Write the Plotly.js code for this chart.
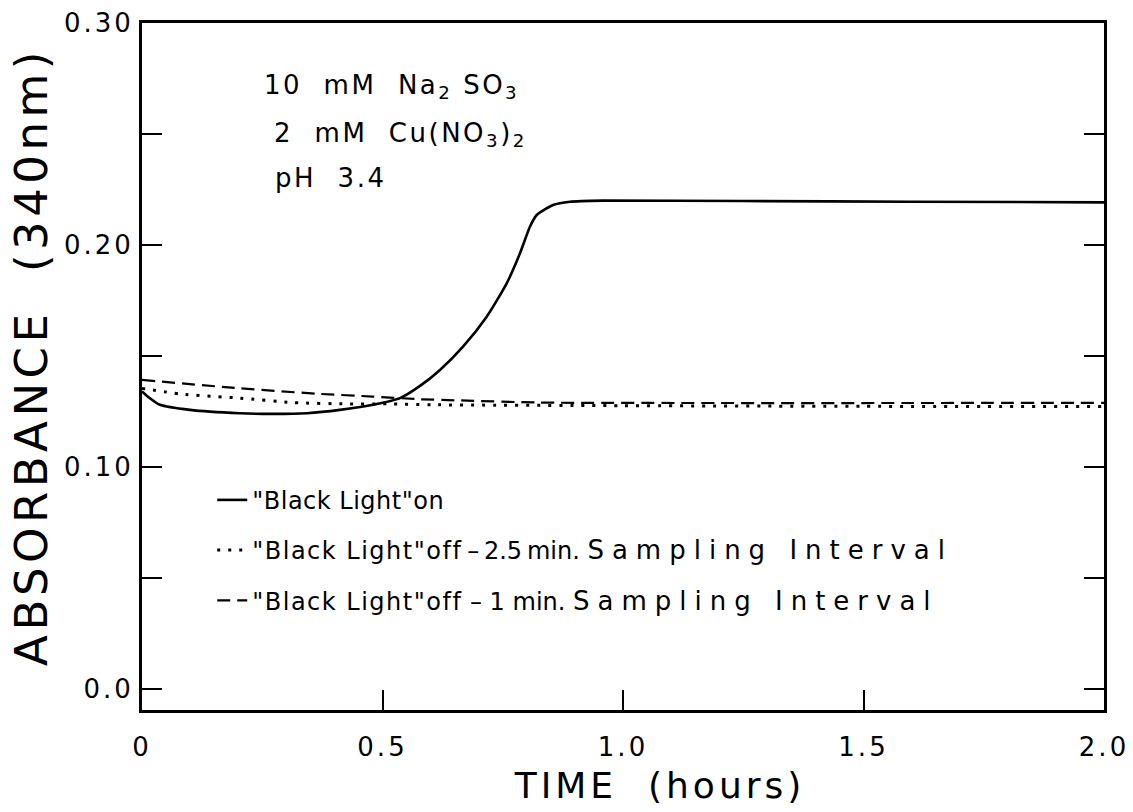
<!DOCTYPE html>
<html>
<head>
<meta charset="utf-8">
<script src="https://cdn.plot.ly/plotly-3.0.1.min.js"></script>
<style>
  html, body { margin: 0; padding: 0; background: #fff; }
  #chart { width: 1133px; height: 812px; }
  /* wide, spaced look of the drafting lettering */
  .xtick text, .ytick text { letter-spacing: 3px; }
  .xtitle { letter-spacing: 4px; }
  .ytitle { letter-spacing: 4.5px; }
  .annotation-text { letter-spacing: 2.5px; }
  /* hand-placed axis titles */
  #chart .g-xtitle { transform: translate(37px, 0); }
  #chart .g-ytitle { transform: translate(0, -10px); }
  #chart .legend .scrollbox { clip-path: none !important; }
</style>
</head>
<body>
<div id="chart"></div>
<script>
// Absorbance at 340 nm vs. time, sulfite / copper(II) solution
const timeOn = [0, 0.0104, 0.0374, 0.0998, 0.2037, 0.2723, 0.343, 0.4116, 0.4802, 0.5364, 0.578,
                0.6195, 0.6674, 0.7166, 0.7582, 0.7859, 0.8067, 0.8206, 0.8545, 0.8898, 0.9584,
                1.25, 1.6, 2.0];
const absOn = [0.134, 0.132, 0.128, 0.1257, 0.1242, 0.1239, 0.1242, 0.1257, 0.128, 0.131, 0.1365,
               0.1437, 0.1542, 0.1677, 0.1827, 0.1963, 0.2083, 0.2135, 0.218, 0.2195, 0.2200,
               0.2198, 0.2195, 0.2192];

const timeOff25 = [0, 0.079, 0.2037, 0.3139, 0.4262, 0.5218, 0.605, 1.0, 1.5, 2.0];
const absOff25 = [0.1354, 0.1329, 0.131, 0.129, 0.1284, 0.1284, 0.128, 0.1276, 0.1273, 0.1272];

const timeOff1 = [0, 0.2037, 0.3701, 0.4802, 0.578, 0.6549, 0.8274, 1.2, 1.6, 2.0];
const absOff1 = [0.1392, 0.1354, 0.1329, 0.1317, 0.1305, 0.1300, 0.1290, 0.1288, 0.1288, 0.1289];

// legend lettering: label part, condition part, and a spread-out "Sampling Interval"
const spaced = (s, px) => '<span style="letter-spacing:' + px + 'px">' + s + '</span>';
const wide = s => '<span style="letter-spacing:8px;font-size:26px">' + s + '</span>';
const seriesNames = [spaced('"Black Light"on', 0.5),
                     spaced('"Black Light"off', 1.5) + '\u2009\u2013\u20092.5\u2009min. ' + wide('Sampling Interval'),
                     spaced('"Black Light"off', 1.5) + ' \u2013 1 min. ' + wide('Sampling Interval')];

const xTickVals = [0, 0.5, 1.0, 1.5, 2.0];
const xTickText = ['0', '0.5', '1.0', '1.5', '2.0'];
const yTickVals = [0, 0.10, 0.20, 0.30];
const yTickText = ['0.0', '0.10', '0.20', '0.30'];
const yMinorTickVals = [0.05, 0.15, 0.25];
const yLongTickVals = [0.10, 0.20];
const topTickVals = [0.469, 0.889, 1.326];

const conditionLines = ['10  mM  Na<sub>2</sub> SO<sub>3</sub>',
                        '2  mM  Cu(NO<sub>3</sub>)<sub>2</sub>',
                        'pH  3.4'];

const FONT = 'DejaVu Sans, Liberation Sans, sans-serif';

const traces = [
  { x: timeOn, y: absOn, name: seriesNames[0], mode: 'lines', legendgroup: 'a',
    line: { color: '#000', width: 2.6, shape: 'spline', smoothing: 0.6 } },
  { x: timeOff25, y: absOff25, name: seriesNames[1], mode: 'lines', legendgroup: 'b',
    line: { color: '#000', width: 3, dash: '3px,8px', shape: 'spline', smoothing: 0.6 } },
  { x: timeOff1, y: absOff1, name: seriesNames[2], mode: 'lines', legendgroup: 'c',
    line: { color: '#000', width: 2.2, dash: '13px,7px', shape: 'spline', smoothing: 0.6 } }
];

const axisCommon = {
  showgrid: false, zeroline: false, showline: true, linecolor: '#000', linewidth: 3,
  ticks: 'inside', tickcolor: '#000', tickwidth: 2
};

const layout = {
  width: 1133, height: 812,
  margin: { l: 142, r: 29, t: 23, b: 102 },
  paper_bgcolor: '#fff', plot_bgcolor: '#fff',
  font: { family: FONT, color: '#000' },
  showlegend: true,
  legend: {
    x: 0.073, y: 0.338, xanchor: 'left', yanchor: 'top',
    bgcolor: 'rgba(0,0,0,0)', borderwidth: 0,
    font: { family: FONT, size: 24, color: '#000' },
    tracegroupgap: 16
  },
  xaxis: Object.assign({}, axisCommon, {
    range: [0, 2.0], mirror: true,
    tickmode: 'array', tickvals: xTickVals, ticktext: xTickText, ticklen: 20,
    tickfont: { family: FONT, size: 26 }, ticklabelstandoff: 12,
    title: { text: 'TIME  (hours)', font: { family: FONT, size: 36 }, standoff: 12 }
  }),
  yaxis: Object.assign({}, axisCommon, {
    range: [-0.0095, 0.30], mirror: 'ticks',
    tickmode: 'array', tickvals: yTickVals, ticktext: yTickText, ticklen: 20,
    minor: { tickmode: 'array', tickvals: yMinorTickVals, ticks: 'inside', ticklen: 20,
             tickwidth: 2, tickcolor: '#000', showgrid: false },
    tickfont: { family: FONT, size: 26 }, ticklabelstandoff: 0,
    title: { text: 'ABSORBANCE  (340nm)', font: { family: FONT, size: 45 }, standoff: 3 }
  }),
  xaxis2: Object.assign({}, axisCommon, {
    overlaying: 'x', side: 'top', anchor: 'y', range: [0, 2.0],
    showline: false, tickmode: 'array', tickvals: topTickVals, ticklen: 20,
    showticklabels: false
  }),
  yaxis2: Object.assign({}, axisCommon, {
    overlaying: 'y', side: 'left', anchor: 'x', range: [-0.0095, 0.30], mirror: 'ticks',
    showline: false, tickmode: 'array', tickvals: yLongTickVals, ticklen: 34,
    showticklabels: false
  }),
  annotations: conditionLines.map((t, i) => ({
    text: t, xref: 'paper', yref: 'paper',
    x: [0.1247, 0.135, 0.136][i], y: [0.908, 0.837, 0.775][i],
    xanchor: 'left', yanchor: 'middle', showarrow: false,
    font: { family: FONT, size: 26, color: '#000' }
  }))
};

Plotly.newPlot('chart', traces, layout, { displayModeBar: false, staticPlot: true });
</script>
</body>
</html>
